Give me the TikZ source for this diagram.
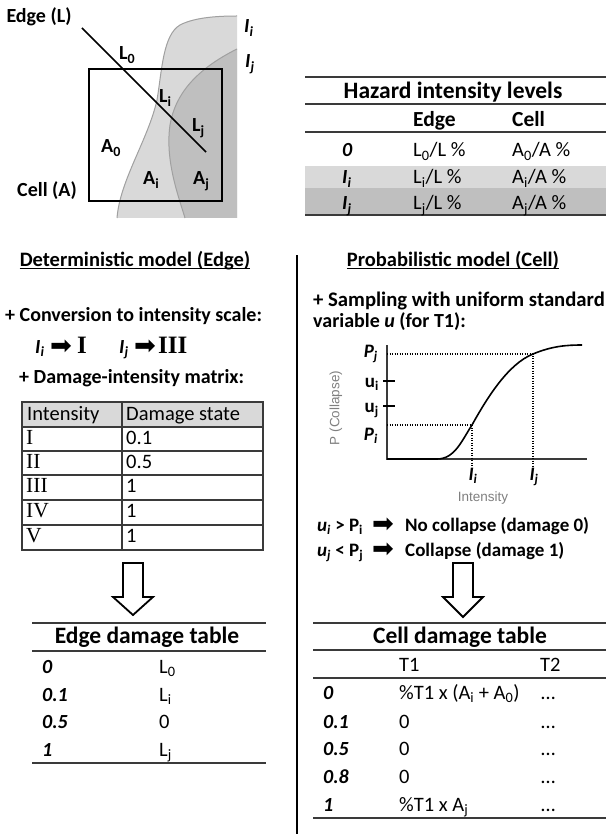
\documentclass[tikz,border=0pt]{standalone}
\usepackage{fontspec}
\setmainfont{Carlito}
\newfontfamily\serifrm{Liberation Serif}
\newfontfamily\arrowfont{DejaVu Sans}
\newfontfamily\arialfont{Liberation Sans}
\definecolor{regLight}{HTML}{D9D9D9}
\definecolor{regDark}{HTML}{BFBFBF}
\definecolor{ruleGray}{HTML}{3A3A3A}
\definecolor{labelGray}{HTML}{7F7F7F}
\definecolor{curveGray}{HTML}{A0A0A0}
\newcommand\bi[1]{\textbf{\textit{#1}}}
\newcommand\sbs[1]{\textsubscript{#1}}
\newcommand\arr{{\arrowfont\fontsize{26}{26}\selectfont\symbol{"27A1}}}
\begin{document}
\begin{tikzpicture}[x=1pt,y=-1pt,
  t/.style={inner sep=0pt, font=\fontsize{20.5}{24}\selectfont},
  tb/.style={inner sep=0pt, font=\fontsize{20}{24}\selectfont\bfseries},
  tt/.style={inner sep=0pt, font=\fontsize{23.5}{28}\selectfont\bfseries},
  tg/.style={inner sep=0pt, font=\fontsize{19}{22}\selectfont\bfseries},
  rule/.style={line width=1.4pt, draw=ruleGray},
  grid/.style={line width=1.5pt, draw=ruleGray},
  hollow/.style={line width=1.8pt, draw=black, fill=white, line join=miter},
  dots/.style={line width=1.6pt, dash pattern=on 1.3pt off 1.2pt}
]
\useasboundingbox (0,0) rectangle (606,834);

% ---------- top-left sketch ----------
\fill[regLight] (117,218) .. controls (120,180) and (148,140) .. (157,100)
  .. controls (162,70) and (163,35) .. (180,25)
  .. controls (195,17) and (220,16) .. (237,16) -- (237,218) -- cycle;
\fill[regDark] (185,218) .. controls (178,195) and (165,160) .. (170,125)
  .. controls (175,95) and (195,70) .. (237,49) -- (237,218) -- cycle;
\draw[curveGray, line width=1pt] (117,218) .. controls (120,180) and (148,140) .. (157,100)
  .. controls (162,70) and (163,35) .. (180,25)
  .. controls (195,17) and (220,16) .. (237,16);
\draw[curveGray, line width=1pt] (185,218) .. controls (178,195) and (165,160) .. (170,125)
  .. controls (175,95) and (195,70) .. (237,49);
\node[draw, line width=1.6pt, minimum width=133pt, minimum height=132pt, inner sep=0pt] (cellsq) at (155.5,135) {};
\coordinate (edgeA) at (82,28);
\coordinate (edgeB) at (206,152);
\draw[line width=1.6pt] (edgeA) -- (edgeB);

\node[tb, anchor=base] (edgeL) at (39,23) {Edge (L)};
\node[tb, anchor=base] (cellA) at (47,197) {Cell (A)};
\node[tb, anchor=base west] (lzero) at (119,60) {L\sbs{0}};
\node[tb, anchor=base west] (li) at (159,103) {L\sbs{i}};
\node[tb, anchor=base west] (lj) at (192,132) {L\sbs{j}};
\node[tb, anchor=base west] (azero) at (101,153) {A\sbs{0}};
\node[tb, anchor=base west] (ai) at (143,185) {A\sbs{i}};
\node[tb, anchor=base west] (aj) at (193,185) {A\sbs{j}};
\node[tb, anchor=base west] (topIi) at (244,33) {\bi{I}\sbs{\bi{i}}};
\node[tb, anchor=base west] (topIj) at (245,68) {\bi{I}\sbs{\bi{j}}};

% ---------- hazard table ----------
\fill[regLight] (305,166) rectangle (606,188);
\fill[regDark] (305,188) rectangle (606,214);
\draw[rule] (305,77) -- (606,77);
\draw[rule] (305,104) -- (606,104);
\draw[rule] (305,132) -- (606,132);
\draw[rule] (305,215) -- (606,215);
\node[tt, anchor=base] (hazT) at (453,99) {Hazard intensity levels};
\node[tb, anchor=base west, font=\fontsize{21.5}{24}\selectfont\bfseries] (hazE) at (413,127) {Edge};
\node[tb, anchor=base west, font=\fontsize{21.5}{24}\selectfont\bfseries] (hazC) at (512,127) {Cell};
\node[tb, anchor=base west] (hz0) at (342,157) {\bi{0}};
\node[t, anchor=base west] (hz0e) at (413,157) {L\sbs{0}/L \%};
\node[t, anchor=base west] (hz0c) at (512,157) {A\sbs{0}/A \%};
\node[tb, anchor=base west] (hzi) at (342,184) {\bi{I}\sbs{\bi{i}}};
\node[t, anchor=base west] (hzie) at (413,184) {L\sbs{i}/L \%};
\node[t, anchor=base west] (hzic) at (512,184) {A\sbs{i}/A \%};
\node[tb, anchor=base west] (hzj) at (342,210) {\bi{I}\sbs{\bi{j}}};
\node[t, anchor=base west] (hzje) at (413,210) {L\sbs{j}/L \%};
\node[t, anchor=base west] (hzjc) at (512,210) {A\sbs{j}/A \%};

% ---------- divider ----------
\coordinate (divTop) at (297,255);
\coordinate (divBot) at (297,834);
\draw[line width=1.5pt] (divTop) -- (divBot);

% ---------- left column ----------
\node[tb, anchor=base, font=\fontsize{20.5}{24}\selectfont\bfseries] (detT) at (135,266) {Deterministic model (Edge)};
\draw[line width=1.2pt] ([yshift=-2.5pt]detT.base west) -- ([yshift=-2.5pt]detT.base east);
\node[tb, anchor=base west] (conv) at (5,321) {+ Conversion to intensity scale:};
\node[tb, anchor=base west] (convIi) at (35,353) {\bi{I}\sbs{\bi{i}}};
\node[inner sep=0pt, anchor=base west] (convA1) at (50,354) {\arr};
\node[inner sep=0pt, anchor=base west, font=\serifrm\bfseries\fontsize{25}{28}\selectfont] (convA2) at (77,353) {I};
\node[tb, anchor=base west] (convIj) at (119,353) {\bi{I}\sbs{\bi{j}}};
\node[inner sep=0pt, anchor=base west] (convB1) at (134,354) {\arr};
\node[inner sep=0pt, anchor=base west, font=\serifrm\bfseries\fontsize{25}{28}\selectfont] (convB2) at (158,353) {III};
\node[tb, anchor=base west] (dmat) at (19,383) {+ Damage-intensity matrix:};

\fill[regLight] (22,402) rectangle (263,427);
\draw[grid] (22,402) rectangle (263,550);
\foreach \yy in {427,451,475,500,525} \draw[grid] (22,\yy) -- (263,\yy);
\draw[grid] (122,402) -- (122,550);
\node[t, anchor=base west] (mh1) at (27,420) {Intensity};
\node[t, anchor=base west] (mh2) at (126,420) {Damage state};
\node[t, anchor=base west, font=\serifrm\fontsize{21.5}{24}\selectfont] (m1a) at (26,444) {I};
\node[t, anchor=base west] (m1b) at (126,444) {0.1};
\node[t, anchor=base west, font=\serifrm\fontsize{21.5}{24}\selectfont] (m2a) at (26,468) {II};
\node[t, anchor=base west] (m2b) at (126,468) {0.5};
\node[t, anchor=base west, font=\serifrm\fontsize{21.5}{24}\selectfont] (m3a) at (26,492) {III};
\node[t, anchor=base west] (m3b) at (126,492) {1};
\node[t, anchor=base west, font=\serifrm\fontsize{21.5}{24}\selectfont] (m4a) at (26,517) {IV};
\node[t, anchor=base west] (m4b) at (126,517) {1};
\node[t, anchor=base west, font=\serifrm\fontsize{21.5}{24}\selectfont] (m5a) at (26,542) {V};
\node[t, anchor=base west] (m5b) at (126,542) {1};

\draw[hollow] (123,563) -- (143,563) -- (143,597) -- (153,597) -- (133,615) -- (113,597) -- (123,597) -- cycle;

\draw[rule] (32,623) -- (266,623);
\draw[rule] (32,651) -- (266,651);
\draw[rule] (32,763) -- (266,763);
\node[tt, anchor=base] (edT) at (147,643) {Edge damage table};
\node[tb, anchor=base west] (ed1) at (42,673) {\bi{0}};
\node[t, anchor=base west] (ed1v) at (159,673) {L\sbs{0}};
\node[tb, anchor=base west] (ed2) at (42,701) {\bi{0.1}};
\node[t, anchor=base west] (ed2v) at (159,701) {L\sbs{i}};
\node[tb, anchor=base west] (ed3) at (42,728) {\bi{0.5}};
\node[t, anchor=base west] (ed3v) at (159,728) {0};
\node[tb, anchor=base west] (ed4) at (42,756) {\bi{1}};
\node[t, anchor=base west] (ed4v) at (159,756) {L\sbs{j}};

% ---------- right column ----------
\node[tb, anchor=base, font=\fontsize{20.5}{24}\selectfont\bfseries] (proT) at (453,266) {Probabilistic model (Cell)};
\draw[line width=1.2pt] ([yshift=-2.5pt]proT.base west) -- ([yshift=-2.5pt]proT.base east);
\node[tb, anchor=base west, font=\fontsize{20.7}{24}\selectfont\bfseries] (samp1) at (313,306) {+ Sampling with uniform standard};
\node[tb, anchor=base west] (samp2) at (313,327) {variable \textit{u} (for T1):};

% graph
\coordinate (origin) at (387,459);
\coordinate (ytop) at (387,345);
\coordinate (xend) at (587,459);
\coordinate (pi) at (472,425);
\coordinate (pj) at (533,354);
\draw[line width=1.3pt, ruleGray] (ytop) -- (origin) -- (xend);
\draw[line width=1.6pt] (origin) -- (437,459) .. controls (455,459) and (462,440) .. (pi)
  .. controls (487,398) and (508,364) .. (pj)
  .. controls (552,346) and (567,345) .. (582,345);
\draw[dots] (387,354) -- (pj) -- (533,468);
\draw[dots] (387,425) -- (pi) -- (472,468);
\draw[line width=2pt] (383,381) -- (395,381);
\draw[line width=2pt] (383,406) -- (395,406);
\node[tg, anchor=base east] (lPj) at (378,357) {\bi{P}\sbs{\bi{j}}};
\node[tg, anchor=base east] (lui) at (379,387) {u\sbs{i}};
\node[tg, anchor=base east] (luj) at (379,412) {u\sbs{j}};
\node[tg, anchor=base east] (lPi) at (378,440) {\bi{P}\sbs{\bi{i}}};
\node[tg, anchor=base] (lIi) at (473,480) {\bi{I}\sbs{\bi{i}}};
\node[tg, anchor=base] (lIj) at (534,480) {\bi{I}\sbs{\bi{j}}};
\node[inner sep=0pt, anchor=base, text=labelGray, font=\arialfont\fontsize{13.5}{16}\selectfont] (xlab) at (483,501) {Intensity};
\node[inner sep=0pt, rotate=90, text=labelGray, font=\arialfont\fontsize{13.5}{16}\selectfont] (ylab) at (336,408) {P (Collapse)};

\node[tb, anchor=base west, font=\fontsize{19}{22}\selectfont\bfseries] (r1a) at (317,531) {\textit{u}\sbs{\textit{i}} > P\sbs{i}};
\node[inner sep=0pt, anchor=base west] (r1b) at (372,532) {\arr};
\node[tb, anchor=base west, font=\fontsize{19}{22}\selectfont\bfseries] (r1c) at (405,531) {No collapse (damage 0)};
\node[tb, anchor=base west, font=\fontsize{19}{22}\selectfont\bfseries] (r2a) at (317,556) {\textit{u}\sbs{\textit{j}} < P\sbs{j}};
\node[inner sep=0pt, anchor=base west] (r2b) at (372,557) {\arr};
\node[tb, anchor=base west, font=\fontsize{19}{22}\selectfont\bfseries] (r2c) at (405,556) {Collapse (damage 1)};

\draw[hollow] (453,563) -- (473,563) -- (473,597) -- (483,597) -- (463,617) -- (443,597) -- (453,597) -- cycle;

\draw[rule] (313,623) -- (606,623);
\draw[rule] (313,650) -- (606,650);
\draw[rule] (313,678) -- (606,678);
\draw[rule] (313,818) -- (606,818);
\node[tt, anchor=base] (cdT) at (460,643) {Cell damage table};
\node[t, anchor=base west] (cdH1) at (399,671) {T1};
\node[t, anchor=base west] (cdH2) at (540,671) {T2};
\node[tb, anchor=base west] (cd1) at (323,699) {\bi{0}};
\node[t, anchor=base west] (cd1a) at (399,699) {\%T1 x (A\sbs{i} + A\sbs{0})};
\node[t, anchor=base west] (cd1b) at (541,699) {\dots};
\node[tb, anchor=base west] (cd2) at (323,728) {\bi{0.1}};
\node[t, anchor=base west] (cd2a) at (399,728) {0};
\node[t, anchor=base west] (cd2b) at (541,728) {\dots};
\node[tb, anchor=base west] (cd3) at (323,755) {\bi{0.5}};
\node[t, anchor=base west] (cd3a) at (399,755) {0};
\node[t, anchor=base west] (cd3b) at (541,755) {\dots};
\node[tb, anchor=base west] (cd4) at (323,783) {\bi{0.8}};
\node[t, anchor=base west] (cd4a) at (399,783) {0};
\node[t, anchor=base west] (cd4b) at (541,783) {\dots};
\node[tb, anchor=base west] (cd5) at (323,811) {\bi{1}};
\node[t, anchor=base west] (cd5a) at (399,811) {\%T1 x A\sbs{j}};
\node[t, anchor=base west] (cd5b) at (541,811) {\dots};
\end{tikzpicture}
\end{document}
